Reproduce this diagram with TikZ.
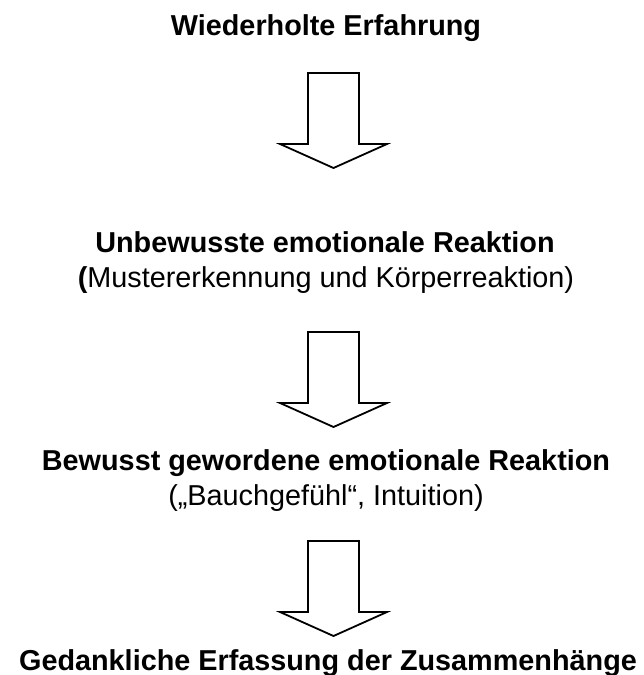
\documentclass[tikz,border=0pt]{standalone}
\usepackage{fontspec}
\setmainfont{Liberation Sans}
\begin{document}
\begin{tikzpicture}[x=1pt,y=-1pt,
  label/.style={inner sep=0pt,anchor=base,font=\fontsize{28.8}{34}\selectfont},
  headline/.style={label,font=\fontsize{28.8}{34}\selectfont\bfseries},
  blockarrow/.style={draw=black,fill=white,line width=1.8pt,line join=miter}]
\useasboundingbox (0,0) rectangle (643,675);

% text of the four stages
\node[headline] (t1) at (326,35) {Wiederholte Erfahrung};
\node[headline] (t2) at (325,252) {Unbewusste emotionale Reaktion};
\node[label]    (s2) at (326,287) {\textbf{(}Mustererkennung und Körperreaktion)};
\node[headline] (t3) at (326,470) {Bewusst gewordene emotionale Reaktion};
\node[label]    (s3) at (326,505) {(„Bauchgefühl“, Intuition)};
\node[headline] (t4) at (328,670) {Gedankliche Erfassung der Zusammenhänge};

% anchor points of the hollow block arrows (top centre of the shaft)
\coordinate (a1) at (333.5,73);
\coordinate (a2) at (333.5,332);
\coordinate (a3) at (333.5,541);

\foreach \a in {a1,a2,a3}{
  \draw[blockarrow] (\a) ++(-25.5,0) -- ++(51,0) -- ++(0,71) -- ++(28,0)
    -- ++(-53.5,24) -- ++(-53.5,-24) -- ++(28,0) -- cycle;
}
\end{tikzpicture}
\end{document}
